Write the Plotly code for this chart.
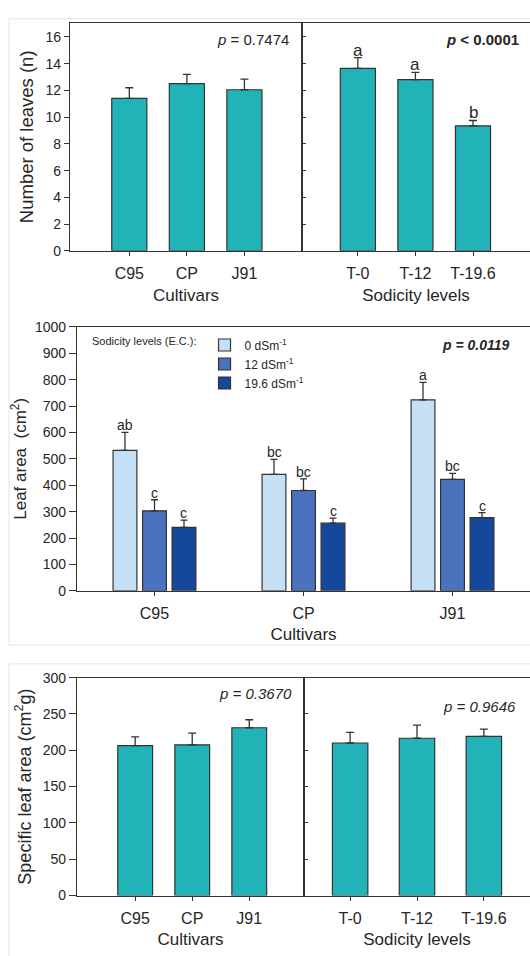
import plotly.graph_objects as go

W, H = 530, 956

# ---------------- data ----------------
cultivars = ["C95", "CP", "J91"]
sodicity = ["T-0", "T-12", "T-19.6"]

leaves_cult = [11.4, 12.5, 12.05]
leaves_cult_err = [0.8, 0.7, 0.8]
leaves_sod = [13.65, 12.8, 9.35]
leaves_sod_err = [0.8, 0.55, 0.4]
leaves_sod_letters = ["a", "a", "b"]

la_names = ["0 dSm<sup>-1</sup>", "12 dSm<sup>-1</sup>", "19.6 dSm<sup>-1</sup>"]
la_0 = [532, 441, 723]
la_0_err = [68, 57, 67]
la_12 = [303, 380, 422]
la_12_err = [42, 44, 23]
la_19 = [240, 256, 277]
la_19_err = [28, 19, 19]
la_0_letters = ["ab", "bc", "a"]
la_12_letters = ["c", "bc", "bc"]
la_19_letters = ["c", "c", "c"]

sla_cult = [206.5, 207.5, 231]
sla_cult_err = [12, 16, 11]
sla_sod = [210, 216.5, 219]
sla_sod_err = [14.5, 18, 10]

# ---------------- style ----------------
FONT = "Liberation Sans, Arial, sans-serif"
TEAL = "#21b3b8"
LA_COLORS = ["#c5dff4", "#4a72bd", "#15479a"]
LINE = "#333333"
TXT = "#262626"


def xd(a, b):
    return [a / W, b / W]


def yd(top, bottom):
    return [1 - bottom / H, 1 - top / H]


def err_dict(e, width=4):
    return dict(type="data", array=e, arrayminus=[0] * len(e), symmetric=False,
                color=LINE, thickness=1.3, width=width)


fig = go.Figure()

# Panel 1
fig.add_trace(go.Bar(x=cultivars, y=leaves_cult, width=0.61, marker=dict(color=TEAL, line=dict(color=LINE, width=1.2)),
                     error_y=err_dict(leaves_cult_err), showlegend=False, xaxis="x", yaxis="y"))
fig.add_trace(go.Bar(x=sodicity, y=leaves_sod, width=0.61, marker=dict(color=TEAL, line=dict(color=LINE, width=1.2)),
                     error_y=err_dict(leaves_sod_err), showlegend=False, xaxis="x2", yaxis="y2"))

# Panel 2 (grouped, numeric positions)
slot = 0.198
bw = 0.16
la_series = [la_0, la_12, la_19]
la_errs = [la_0_err, la_12_err, la_19_err]
la_letters = [la_0_letters, la_12_letters, la_19_letters]
annotations = []
for j, (vals, errs, lets) in enumerate(zip(la_series, la_errs, la_letters)):
    xs = [i + (j - 1) * slot for i in range(len(cultivars))]
    fig.add_trace(go.Bar(x=xs, y=vals, width=bw, name=la_names[j],
                         marker=dict(color=LA_COLORS[j], line=dict(color=LINE, width=1.2)),
                         error_y=err_dict(errs, 3.5), xaxis="x3", yaxis="y3"))
    for xv, v, e, t in zip(xs, vals, errs, lets):
        annotations.append(dict(x=xv, y=v + e, xref="x3", yref="y3", text=t, showarrow=False,
                                yanchor="bottom", yshift=-3, font=dict(size=14, color=TXT, family=FONT)))

# Panel 3
fig.add_trace(go.Bar(x=cultivars, y=sla_cult, width=0.61, marker=dict(color=TEAL, line=dict(color=LINE, width=1.2)),
                     error_y=err_dict(sla_cult_err), showlegend=False, xaxis="x4", yaxis="y4"))
fig.add_trace(go.Bar(x=sodicity, y=sla_sod, width=0.53, marker=dict(color=TEAL, line=dict(color=LINE, width=1.2)),
                     error_y=err_dict(sla_sod_err), showlegend=False, xaxis="x5", yaxis="y5"))

for c, v, e, t in zip(sodicity, leaves_sod, leaves_sod_err, leaves_sod_letters):
    annotations.append(dict(x=c, y=v + e, xref="x2", yref="y2", text=t, showarrow=False,
                            yanchor="bottom", yshift=-4, font=dict(size=17, color=TXT, family=FONT)))

# p-value annotations
def pnote(text, xr, ymid, size=15):
    return dict(x=xr / W, y=1 - ymid / H, xref="paper", yref="paper", xanchor="right", yanchor="middle",
                text=text, showarrow=False, font=dict(size=size, color=TXT, family=FONT))

annotations += [
    pnote("<i>p</i> = 0.7474", 291, 32),
    pnote("<b><i>p</i> &lt; 0.0001</b>", 521, 32),
    pnote("<b><i>p = 0.0119</i></b>", 512, 343, 14),
    pnote("<i>p = 0.3670</i>", 294, 697),
    pnote("<i>p = 0.9646</i>", 518, 710),
]

tickfont_y = dict(size=14, color=TXT, family=FONT)
tickfont_x = dict(size=16, color=TXT, family=FONT)
titlefont = dict(size=17, color=TXT, family=FONT)

base = dict(showline=True, linecolor=LINE, linewidth=1.2, showgrid=False, zeroline=False,
            tickcolor=LINE, tickwidth=1.2)
xbase = dict(base, ticks="outside", ticklen=4, tickfont=tickfont_x, ticklabelstandoff=4, mirror=True)

layout = dict(
    width=W, height=H, margin=dict(l=0, r=0, t=0, b=0),
    paper_bgcolor="white", plot_bgcolor="white",
    barmode="overlay", font=dict(family=FONT, color=TXT),
    annotations=annotations,
    legend=dict(x=90 / W, y=1 - 328 / H, xanchor="left", yanchor="top", bgcolor="rgba(0,0,0,0)",
                font=dict(size=12, color=TXT, family=FONT),
                title=dict(text="Sodicity levels (E.C.):", side="left", font=dict(size=11, color=TXT, family=FONT))),
    # panel 1
    xaxis=dict(xbase, domain=xd(70, 302), anchor="y", type="category", range=[-1.03, 3.0],
               title=dict(text="Cultivars", font=titlefont, standoff=7)),
    yaxis=dict(base, domain=yd(15, 247), anchor="x", range=[0, 17.06], tickvals=list(range(0, 17, 2)),
               mirror=True, ticks="outside", ticklen=5, tickfont=tickfont_y,
               title=dict(text="Number of leaves (n)", font=dict(titlefont, size=18.5), standoff=7)),
    xaxis2=dict(xbase, domain=xd(302, 530), anchor="y2", type="category", range=[-0.97, 2.99],
                title=dict(text="Sodicity levels", font=titlefont, standoff=7)),
    yaxis2=dict(base, domain=yd(15, 247), anchor="x2", range=[0, 17.06], tickvals=list(range(0, 17, 2)),
                ticks="inside", ticklen=4, showticklabels=False),
    # panel 2
    xaxis3=dict(xbase, domain=xd(77, 530), anchor="y3", range=[-0.52, 2.52], tickvals=[0, 1, 2],
                ticktext=cultivars, title=dict(text="Cultivars", font=titlefont, standoff=7)),
    yaxis3=dict(base, domain=yd(324.3, 592.7), anchor="x3", range=[0, 1000], dtick=100,
                ticks="outside", ticklen=7, tickfont=tickfont_y,
                title=dict(text="Leaf area  (cm<sup>2</sup>)", font=titlefont, standoff=3)),
    # panel 3
    xaxis4=dict(xbase, domain=xd(77, 304), anchor="y4", type="category", range=[-1.02, 2.96],
                title=dict(text="Cultivars", font=titlefont, standoff=7)),
    yaxis4=dict(base, domain=yd(681, 902.7), anchor="x4", range=[0, 300], dtick=50, mirror=True,
                ticks="outside", ticklen=7, tickfont=tickfont_y,
                title=dict(text="Specific leaf area (cm<sup>2</sup>g)", font=dict(titlefont, size=18), standoff=6)),
    xaxis5=dict(xbase, domain=xd(304, 530), anchor="y5", type="category", range=[-0.69, 2.69],
                title=dict(text="Sodicity levels", font=titlefont, standoff=7)),
    yaxis5=dict(base, domain=yd(681, 902.7), anchor="x5", range=[0, 300], dtick=50,
                ticks="inside", ticklen=4, showticklabels=False),
    shapes=[
        dict(type="rect", xref="paper", yref="paper", x0=9 / W, x1=1.05, y0=1 - 648 / H, y1=1 - 11 / H,
             line=dict(color="#e4e4e4", width=1), layer="below"),
        dict(type="rect", xref="paper", yref="paper", x0=9 / W, x1=1.05, y0=-0.05, y1=1 - 667 / H,
             line=dict(color="#e4e4e4", width=1), layer="below"),
    ],
)
fig.update_layout(**layout)
fig.write_html(
    "out.html",
    config={"displayModeBar": False},
    post_script="document.body.style.margin='0';document.body.style.overflow='hidden';",
)
